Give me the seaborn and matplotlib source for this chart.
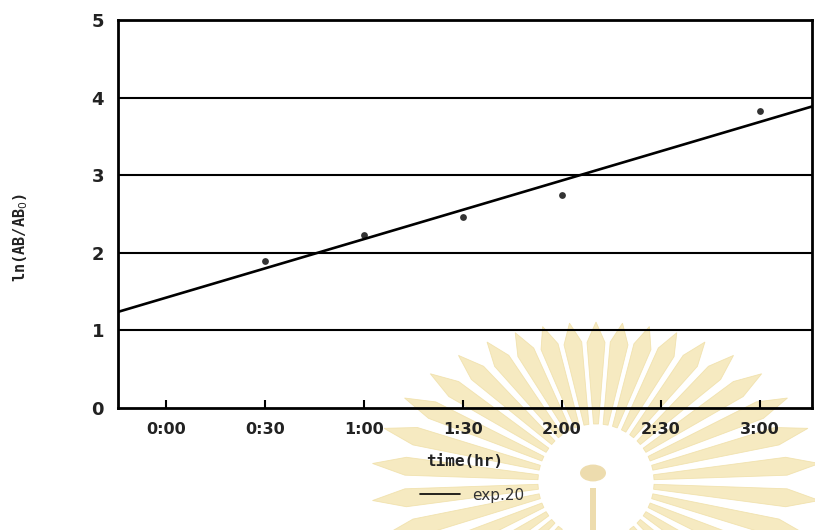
import numpy as np
import pandas as pd
import matplotlib
matplotlib.use("Agg")
import matplotlib.pyplot as plt
from matplotlib.patches import Polygon, Circle, Rectangle
import seaborn as sns

# Measured values: elapsed time (hours) and ln(AB/AB0)
time_hr = [0.5, 1.0, 1.5, 2.0, 3.0]
ln_ratio = [1.89, 2.23, 2.46, 2.74, 3.83]
tick_pos = [0.0, 0.5, 1.0, 1.5, 2.0, 2.5, 3.0]
tick_labels = ["0:00", "0:30", "1:00", "1:30", "2:00", "2:30", "3:00"]
series_name = "exp.20"

df = pd.DataFrame({"time": time_hr, "ln": ln_ratio})

sns.set_theme(style="white")
plt.rcParams["font.family"] = ["DejaVu Sans"]

W, H = 815, 530
fig = plt.figure(figsize=(W / 100, H / 100), dpi=100)
fig.patch.set_facecolor("white")


def fpt(px, py):
    return (px / W, 1 - py / H)


# Faint sunburst emblem behind the lower right of the sheet
cx, cy = 596, 482
ray_a, ray_b = 225, 160
n_rays = 38
for i in range(n_rays):
    ang = 2 * np.pi * (i + 0.5) / n_rays
    ux, uy = np.cos(ang), -np.sin(ang)
    px_, py_ = np.sin(ang), np.cos(ang)
    r1 = 1 / np.sqrt((np.cos(ang) / ray_a) ** 2 + (np.sin(ang) / ray_b) ** 2)
    r0 = 58
    prof = [(r0, 2.5), (r0 + 0.8 * (r1 - r0), 9.0), (r1, 0.0)]
    left = [(cx + r * ux + w * px_, cy + r * uy + w * py_) for r, w in prof]
    right = [(cx + r * ux - w * px_, cy + r * uy - w * py_) for r, w in prof[:-1]][::-1]
    pts = [fpt(x, y) for x, y in left + right]
    fig.add_artist(Polygon(pts, closed=True, transform=fig.transFigure,
                           facecolor="#f4e5b2", edgecolor="#efdea4", lw=0.6,
                           alpha=0.8, zorder=-5))
fig.add_artist(Circle(fpt(593, 473), 13 / W, transform=fig.transFigure,
                      facecolor="#eddcae", edgecolor="none", zorder=-4))
x0, y0 = fpt(590, H)
fig.add_artist(Rectangle((x0, y0), 6 / W, 42 / H, transform=fig.transFigure,
                         facecolor="#eddcae", edgecolor="none", zorder=-4))

ax = fig.add_axes([118 / W, 1 - 408 / H, (812 - 118) / W, (408 - 20) / H])
ax.patch.set_alpha(0)

ax.set_xlim(-0.242, 3.262)
ax.set_ylim(0, 5)

sns.regplot(data=df, x="time", y="ln", ax=ax, ci=None, truncate=False,
            scatter_kws=dict(s=24, color="black", linewidths=0, zorder=4),
            line_kws=dict(color="black", lw=1.9, label=series_name, zorder=3))

for yv in [1, 2, 3, 4]:
    ax.axhline(yv, color="black", lw=1.5, zorder=2)

for s in ax.spines.values():
    s.set_color("black")
    s.set_linewidth(2)

ax.set_xticks(tick_pos)
ax.set_xticklabels(tick_labels)
ax.set_yticks([0, 1, 2, 3, 4, 5])
ax.tick_params(axis="x", direction="in", length=6, width=1.5, color="black",
               bottom=True, pad=10, labelsize=11.5, labelcolor="#222222")
ax.tick_params(axis="y", length=0, pad=10, labelsize=13, labelcolor="#222222")
for lab in ax.get_xticklabels() + ax.get_yticklabels():
    lab.set_fontweight("bold")

ax.set_xlabel("time(hr)", family="DejaVu Sans Mono", fontweight="bold",
              fontsize=11.5, labelpad=12, color="#222222")
ax.set_ylabel("ln(AB/AB$_0$)", family="DejaVu Sans Mono", fontweight="bold",
              fontsize=11, color="#222222")
ax.yaxis.set_label_coords(-0.127, 0.44)

leg = ax.legend(loc="upper center", bbox_to_anchor=(0.51, -0.17), frameon=False,
                handlelength=2.6, fontsize=11, labelcolor="#333333")
for h in leg.legend_handles:
    h.set_linewidth(1.2)

fig.savefig("out.png", dpi=100, facecolor="white")
